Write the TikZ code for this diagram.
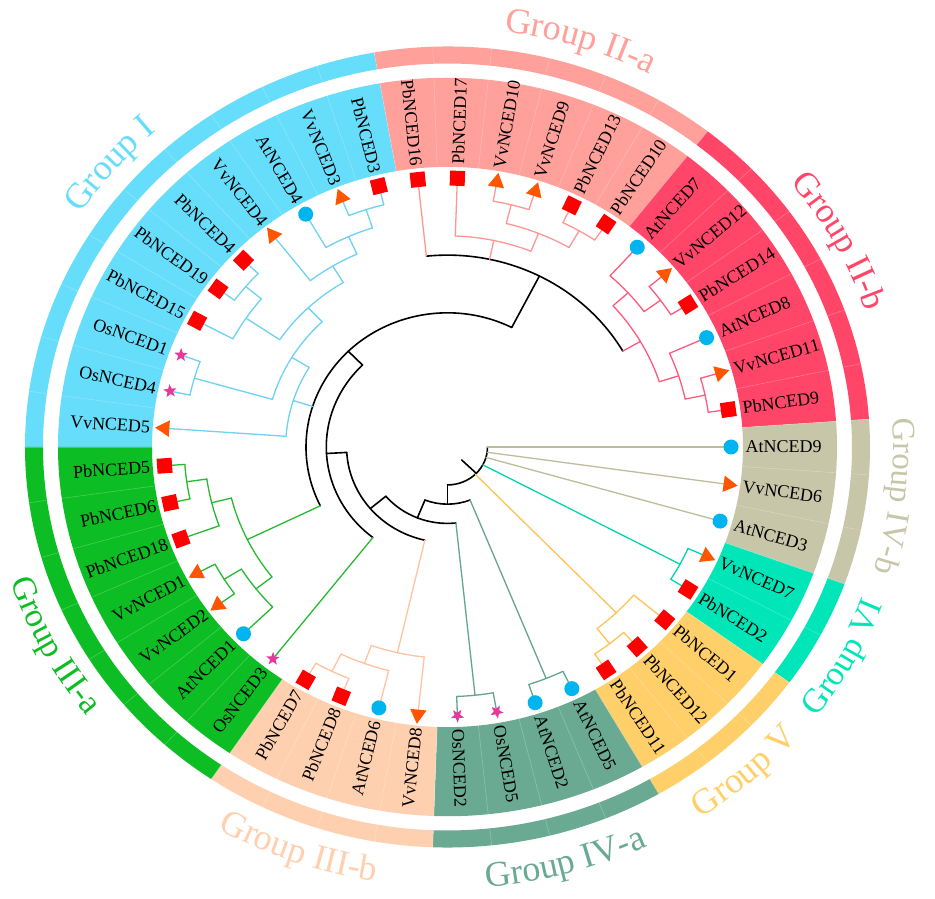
\documentclass[tikz,border=0pt]{standalone}
\usepackage{fontspec}
\setmainfont{Liberation Serif}
\usetikzlibrary{shapes.geometric,decorations.text}

\definecolor{gI}{RGB}{102,221,250}
\definecolor{gIIa}{RGB}{255,160,155}
\definecolor{gIIb}{RGB}{255,70,105}
\definecolor{gIVb}{RGB}{200,198,168}
\definecolor{gVI}{RGB}{0,230,185}
\definecolor{gV}{RGB}{255,208,105}
\definecolor{gIVa}{RGB}{106,170,146}
\definecolor{gIIIb}{RGB}{255,208,176}
\definecolor{gIIIa}{RGB}{12,190,35}
\definecolor{lI}{RGB}{110,210,240}
\definecolor{lIIa}{RGB}{255,150,150}
\definecolor{lIIb}{RGB}{255,90,125}
\definecolor{lIVb}{RGB}{190,188,155}
\definecolor{lVI}{RGB}{0,215,175}
\definecolor{lV}{RGB}{255,195,85}
\definecolor{lIVa}{RGB}{100,165,140}
\definecolor{lIIIb}{RGB}{255,195,160}
\definecolor{lIIIa}{RGB}{40,185,50}
\definecolor{mkred}{RGB}{255,0,0}
\definecolor{mkorg}{RGB}{255,85,0}
\definecolor{mkblue}{RGB}{0,180,240}
\definecolor{mkpink}{RGB}{230,55,155}

\newcommand\carc[4]{\pgfmathsetmacro\myrA{40+20.3*(#2)}\draw[#1] (#3:\myrA pt) arc[start angle=#3,end angle=#4,radius=\myrA pt];}
\newcommand\redge[4]{\pgfmathsetmacro\myrA{40+20.3*(#3)}\pgfmathsetmacro\myrB{40+20.3*(#4)}\draw[#1] (#2:\myrA pt) -- (#2:\myrB pt);}
\newcommand\sect[5]{\fill[#1] (#2:#4pt) arc[start angle=#2,end angle=#3,radius=#4pt] -- (#3:#5pt) arc[start angle=#3,end angle=#2,radius=#5pt] -- cycle;}
\newcommand\glab[6]{\path[decorate,decoration={text along path,text align=center,text={|\fontsize{#6}{40}\selectfont\color{#1}|#5}}] (#2:#4pt) arc[start angle=#2,end angle=#3,radius=#4pt];}

\tikzset{
 blk/.style={black,line width=1.6pt,line cap=round},
 tI/.style={lI,line width=1.3pt,line cap=round},
 tIIa/.style={lIIa,line width=1.3pt,line cap=round},
 tIIb/.style={lIIb,line width=1.3pt,line cap=round},
 tIVb/.style={lIVb,line width=1.3pt,line cap=round},
 tVI/.style={lVI,line width=1.3pt,line cap=round},
 tV/.style={lV,line width=1.3pt,line cap=round},
 tIVa/.style={lIVa,line width=1.3pt,line cap=round},
 tIIIb/.style={lIIIb,line width=1.3pt,line cap=round},
 tIIIa/.style={lIIIa,line width=1.3pt,line cap=round},
 mksq/.style={rectangle,fill=mkred,minimum size=15pt,inner sep=0pt},
 mktri/.style={regular polygon,regular polygon sides=3,fill=mkorg,minimum size=19pt,inner sep=0pt},
 mkcir/.style={circle,fill=mkblue,minimum size=15pt,inner sep=0pt},
 mkstar/.style={star,star points=5,star point ratio=2.4,fill=mkpink,minimum size=14pt,inner sep=0pt},
 lab/.style={font=\fontsize{18}{20}\selectfont,inner sep=0pt},
}

\begin{document}
\begin{tikzpicture}
\fill[white] (-447.5pt,-452pt) rectangle (487.5pt,447pt);
\useasboundingbox (-447.5pt,-452pt) rectangle (487.5pt,447pt);
\begin{scope}[yscale=0.948]
% colour band and outer ring
\foreach \gc/\ga/\gb in {gI/100/180,gIIa/52/100,gIIb/4/52,gIVb/-20/4,gVI/-36/-20,gV/-60/-36,gIVa/-92/-60,gIIIb/-124/-92,gIIIa/180/236}{
  \sect{\gc}{\ga}{\gb}{295.5}{389.5}
  \sect{\gc}{\ga}{\gb}{404.5}{422.5}
}
\foreach \k in {0,...,44}{
  \draw[white,opacity=0.25,line width=0.6pt] ({4+8*\k}:295.5pt) -- ({4+8*\k}:389.5pt);
  \draw[white,opacity=0.25,line width=0.6pt] ({4+8*\k}:404.5pt) -- ({4+8*\k}:422.5pt);
}
% backbone
\redge{blk}{316}{-1}{0}
\carc{blk}{0}{270}{360}
\redge{blk}{270}{0}{1}
\carc{blk}{1}{248.06}{292}
\redge{blk}{248.06}{1}{2}
\carc{blk}{2}{220.1}{276}
\redge{blk}{220.1}{2}{3}
\carc{blk}{3}{183.25}{257}
\redge{blk}{183.25}{3}{4}
\carc{blk}{4}{134.5}{232}
\redge{blk}{134.5}{4}{5}
\carc{blk}{5}{63}{206}
\redge{blk}{63}{5}{8}
\carc{blk}{8}{30}{96}
% IV-b
\redge{tIVb}{360}{0}{12}
\redge{tIVb}{352}{0}{12}
\redge{tIVb}{344}{0}{12}
% VI
\redge{tVI}{332}{0}{11}
\carc{tVI}{11}{328}{336}
\redge{tVI}{328}{11}{12}
\redge{tVI}{336}{11}{12}
% V
\redge{tV}{314}{0}{10}
\carc{tV}{10}{308}{320}
\redge{tV}{320}{10}{12}
\redge{tV}{308}{10}{11}
\carc{tV}{11}{304}{312}
\redge{tV}{304}{11}{12}
\redge{tV}{312}{11}{12}
% IV-a
\redge{tIVa}{292}{1}{11}
\carc{tIVa}{11}{288}{296}
\redge{tIVa}{288}{11}{12}
\redge{tIVa}{296}{11}{12}
\redge{tIVa}{276}{2}{11}
\carc{tIVa}{11}{272}{280}
\redge{tIVa}{272}{11}{12}
\redge{tIVa}{280}{11}{12}
% III-b
\redge{tIIIb}{257}{3}{9}
\carc{tIIIb}{9}{250}{264}
\redge{tIIIb}{264}{9}{12}
\redge{tIIIb}{250}{9}{10}
\carc{tIIIb}{10}{244}{256}
\redge{tIIIb}{256}{10}{12}
\redge{tIIIb}{244}{10}{11}
\carc{tIIIb}{11}{240}{248}
\redge{tIIIb}{240}{11}{12}
\redge{tIIIb}{248}{11}{12}
% III-a
\redge{tIIIa}{232}{4}{12}
\redge{tIIIa}{206}{5}{9}
\carc{tIIIa}{9}{194}{218}
\redge{tIIIa}{194}{9}{10}
\carc{tIIIa}{10}{188}{200}
\redge{tIIIa}{200}{10}{12}
\redge{tIIIa}{188}{10}{11}
\carc{tIIIa}{11}{184}{192}
\redge{tIIIa}{184}{11}{12}
\redge{tIIIa}{192}{11}{12}
\redge{tIIIa}{218}{9}{10}
\carc{tIIIa}{10}{212}{224}
\redge{tIIIa}{224}{10}{12}
\redge{tIIIa}{212}{10}{11}
\carc{tIIIa}{11}{208}{216}
\redge{tIIIa}{208}{11}{12}
\redge{tIIIa}{216}{11}{12}
% I
\redge{tI}{162.375}{5}{6}
\carc{tI}{6}{148.75}{176}
\redge{tI}{176}{6}{12}
\redge{tI}{148.75}{6}{7}
\carc{tI}{7}{133.5}{164}
\redge{tI}{164}{7}{11}
\carc{tI}{11}{160}{168}
\redge{tI}{160}{11}{12}
\redge{tI}{168}{11}{12}
\redge{tI}{133.5}{7}{8}
\carc{tI}{8}{121}{146}
\redge{tI}{121}{8}{9}
\carc{tI}{9}{114}{128}
\redge{tI}{128}{9}{12}
\redge{tI}{114}{9}{10}
\carc{tI}{10}{108}{120}
\redge{tI}{120}{10}{12}
\redge{tI}{108}{10}{11}
\carc{tI}{11}{104}{112}
\redge{tI}{104}{11}{12}
\redge{tI}{112}{11}{12}
\redge{tI}{146}{8}{10}
\carc{tI}{10}{140}{152}
\redge{tI}{152}{10}{12}
\redge{tI}{140}{10}{11}
\carc{tI}{11}{136}{144}
\redge{tI}{136}{11}{12}
\redge{tI}{144}{11}{12}
% II-a
\redge{tIIa}{96}{8}{12}
\redge{tIIa}{78}{8}{9}
\carc{tIIa}{9}{68}{88}
\redge{tIIa}{88}{9}{12}
\redge{tIIa}{68}{9}{10}
\carc{tIIa}{10}{60}{76}
\redge{tIIa}{76}{10}{11}
\carc{tIIa}{11}{72}{80}
\redge{tIIa}{72}{11}{12}
\redge{tIIa}{80}{11}{12}
\redge{tIIa}{60}{10}{11}
\carc{tIIa}{11}{56}{64}
\redge{tIIa}{56}{11}{12}
\redge{tIIa}{64}{11}{12}
% II-b
\redge{tIIb}{30}{8}{9}
\carc{tIIb}{9}{18}{42}
\redge{tIIb}{42}{9}{10}
\carc{tIIb}{10}{36}{48}
\redge{tIIb}{48}{10}{12}
\redge{tIIb}{36}{10}{11}
\carc{tIIb}{11}{32}{40}
\redge{tIIb}{32}{11}{12}
\redge{tIIb}{40}{11}{12}
\redge{tIIb}{18}{9}{10}
\carc{tIIb}{10}{12}{24}
\redge{tIIb}{24}{10}{12}
\redge{tIIb}{12}{10}{11}
\carc{tIIb}{11}{8}{16}
\redge{tIIb}{8}{11}{12}
\redge{tIIb}{16}{11}{12}
% leaves: markers and names
\foreach \ang/\mk/\nm/\fl in {104/mksq/PbNCED3/1,112/mktri/VvNCED3/1,120/mkcir/AtNCED4/1,128/mktri/VvNCED4/1,136/mksq/PbNCED4/1,144/mksq/PbNCED19/1,152/mksq/PbNCED15/1,160/mkstar/OsNCED1/1,168/mkstar/OsNCED4/1,176/mktri/VvNCED5/1,184/mksq/PbNCED5/1,192/mksq/PbNCED6/1,200/mksq/PbNCED18/1,208/mktri/VvNCED1/1,216/mktri/VvNCED2/1,224/mkcir/AtNCED1/1,232/mkstar/OsNCED3/1,240/mksq/PbNCED7/1,248/mksq/PbNCED8/1,256/mkcir/AtNCED6/1,264/mktri/VvNCED8/1,272/mkstar/OsNCED2/0,280/mkstar/OsNCED5/0,288/mkcir/AtNCED2/0,296/mkcir/AtNCED5/0,304/mksq/PbNCED11/0,312/mksq/PbNCED12/0,320/mksq/PbNCED1/0,328/mksq/PbNCED2/0,336/mktri/VvNCED7/0,344/mkcir/AtNCED3/0,352/mktri/VvNCED6/0,0/mkcir/AtNCED9/0,8/mksq/PbNCED9/0,16/mktri/VvNCED11/0,24/mkcir/AtNCED8/0,32/mksq/PbNCED14/0,40/mktri/VvNCED12/0,48/mkcir/AtNCED7/0,56/mksq/PbNCED10/0,64/mksq/PbNCED13/0,72/mktri/VvNCED9/0,80/mktri/VvNCED10/0,88/mksq/PbNCED17/0,96/mksq/PbNCED16/1}{
  \node[\mk,rotate=\ang-90] (m\nm) at (\ang:283.6pt) {};
  \pgfmathsetmacro\rot{\ang+180*\fl}
  \ifnum\fl=1
    \node[lab,anchor=east,rotate=\rot] (t\nm) at (\ang:298pt) {\nm};
  \else
    \node[lab,anchor=west,rotate=\rot] (t\nm) at (\ang:298pt) {\nm};
  \fi
}
% group labels
\glab{gI}{169}{109}{442}{Group I}{36}
\glab{gIIa}{102.5}{42.5}{442}{Group II-a}{36}
\glab{gIIb}{58.7}{-1.3}{442}{Group II-b}{35}
\glab{gIVb}{23.5}{-36.5}{446}{Group IV-b}{33}
\glab{gVI}{-59}{1}{466}{Group VI}{34}
\glab{gV}{-78.8}{-18.8}{466}{Group V}{36}
\glab{gIVa}{-104.7}{-44.7}{466}{Group IV-a}{36}
\glab{gIIIb}{220.5}{280.5}{464}{Group III-b}{36}
\glab{gIIIa}{177.8}{237.8}{459}{Group III-a}{34}
\end{scope}
\end{tikzpicture}
\end{document}
